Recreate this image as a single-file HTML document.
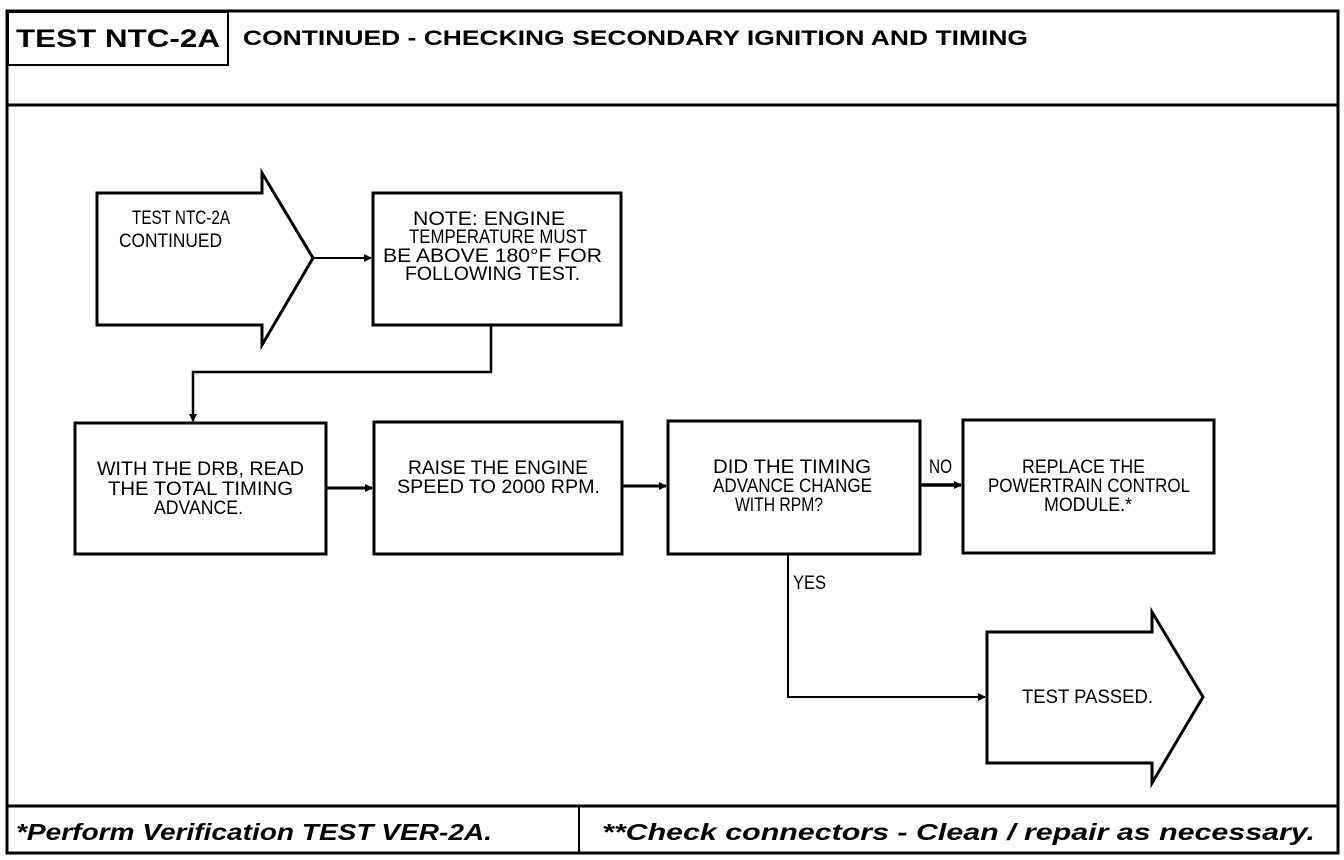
<!DOCTYPE html>
<html><head><style>
html,body{margin:0;padding:0;background:#fff}
svg{display:block}
.t{font-family:"Liberation Sans",sans-serif;font-size:19px;fill:#000}
.h{font-family:"Liberation Sans",sans-serif;font-weight:bold;fill:#000}
</style></head><body>
<svg width="1344" height="860" viewBox="0 0 1344 860">
<defs><marker id="a" markerWidth="8" markerHeight="8" refX="7" refY="4" orient="auto" markerUnits="userSpaceOnUse"><path d="M0,0 L8,4 L0,8 z" fill="#000"/></marker></defs>
<g fill="none" stroke="#000">
<rect x="7" y="11" width="1331" height="842" stroke-width="3"/>
<line x1="7" y1="105" x2="1338" y2="105" stroke-width="3"/>
<rect x="8" y="12" width="220" height="53" stroke-width="2"/>
<line x1="7" y1="806" x2="1338" y2="806" stroke-width="3"/>
<line x1="579" y1="806" x2="579" y2="853" stroke-width="2"/>
<polygon points="97,193 262,193 262,173 313,258 262,345 262,325 97,325" stroke-width="3"/>
<rect x="373" y="193" width="248" height="132" stroke-width="3"/>
<rect x="75" y="423" width="251" height="131" stroke-width="3"/>
<rect x="374" y="422" width="248" height="132" stroke-width="3"/>
<rect x="668" y="421" width="252" height="133" stroke-width="3"/>
<rect x="963" y="420" width="251" height="133" stroke-width="3"/>
<polygon points="987,632 1152,632 1152,612 1203,697 1152,783 1152,763 987,763" stroke-width="3"/>
<line x1="313" y1="258" x2="371" y2="258" stroke-width="2" marker-end="url(#a)"/>
<polyline points="491,325 491,372 193,372 193,421" stroke-width="2.5" marker-end="url(#a)"/>
<line x1="326" y1="488" x2="372" y2="488" stroke-width="3" marker-end="url(#a)"/>
<line x1="622" y1="486" x2="666" y2="486" stroke-width="3" marker-end="url(#a)"/>
<line x1="920" y1="485" x2="961" y2="485" stroke-width="3.5" marker-end="url(#a)"/>
<polyline points="788,554 788,697 985,697" stroke-width="2" marker-end="url(#a)"/>
</g>
<text class="h" x="16" y="47" font-size="25" textLength="204" lengthAdjust="spacingAndGlyphs">TEST NTC-2A</text>
<text class="h" x="243" y="45" font-size="21" textLength="785" lengthAdjust="spacingAndGlyphs">CONTINUED - CHECKING SECONDARY IGNITION AND TIMING</text>
<g class="t">
<text x="132" y="224" textLength="98" lengthAdjust="spacingAndGlyphs">TEST NTC-2A</text>
<text x="119" y="247" textLength="103" lengthAdjust="spacingAndGlyphs">CONTINUED</text>
<text x="413" y="225" textLength="152" lengthAdjust="spacingAndGlyphs">NOTE:  ENGINE</text>
<text x="409" y="243" textLength="178" lengthAdjust="spacingAndGlyphs">TEMPERATURE MUST</text>
<text x="383" y="262" textLength="219" lengthAdjust="spacingAndGlyphs">BE ABOVE 180°F FOR</text>
<text x="405" y="280" textLength="175" lengthAdjust="spacingAndGlyphs">FOLLOWING TEST.</text>
<text x="97" y="475" textLength="207" lengthAdjust="spacingAndGlyphs">WITH THE DRB, READ</text>
<text x="108" y="495" textLength="185" lengthAdjust="spacingAndGlyphs">THE TOTAL TIMING</text>
<text x="154" y="514" textLength="89" lengthAdjust="spacingAndGlyphs">ADVANCE.</text>
<text x="408" y="474" textLength="180" lengthAdjust="spacingAndGlyphs">RAISE THE ENGINE</text>
<text x="397" y="493" textLength="203" lengthAdjust="spacingAndGlyphs">SPEED TO 2000 RPM.</text>
<text x="713" y="473" textLength="158" lengthAdjust="spacingAndGlyphs">DID THE TIMING</text>
<text x="713" y="492" textLength="159" lengthAdjust="spacingAndGlyphs">ADVANCE CHANGE</text>
<text x="735" y="511" textLength="88" lengthAdjust="spacingAndGlyphs">WITH RPM?</text>
<text x="1022" y="473" textLength="123" lengthAdjust="spacingAndGlyphs">REPLACE THE</text>
<text x="988" y="492" textLength="202" lengthAdjust="spacingAndGlyphs">POWERTRAIN CONTROL</text>
<text x="1044" y="511" textLength="88" lengthAdjust="spacingAndGlyphs">MODULE.*</text>
<text x="1022" y="703" textLength="131" lengthAdjust="spacingAndGlyphs">TEST PASSED.</text>
<text x="929" y="473" textLength="23" lengthAdjust="spacingAndGlyphs">NO</text>
<text x="793" y="589" textLength="33" lengthAdjust="spacingAndGlyphs">YES</text>
</g>
<text class="h" x="16" y="840" font-size="23" font-style="italic" textLength="476" lengthAdjust="spacingAndGlyphs">*Perform Verification TEST VER-2A.</text>
<text class="h" x="602" y="840" font-size="23" font-style="italic" textLength="713" lengthAdjust="spacingAndGlyphs">**Check connectors - Clean / repair as necessary.</text>
</svg>
</body></html>
